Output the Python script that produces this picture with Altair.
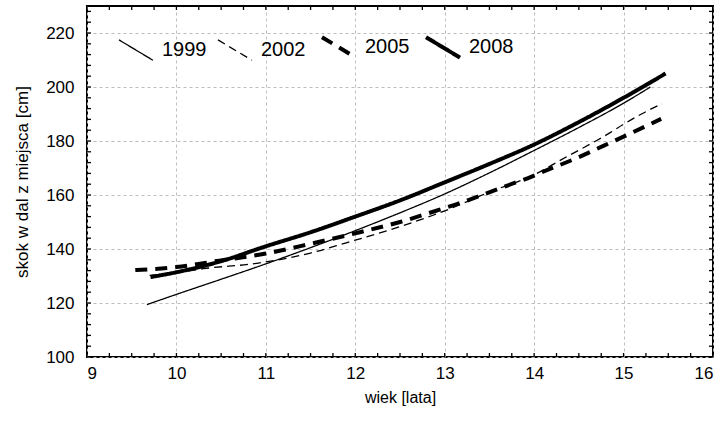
import altair as alt
import pandas as pd
import numpy as np

# ---- data ----
years = ["1999", "2002", "2005", "2008"]
widths = [1.3, 1.3, 4.0, 4.0]
dashes = [[1, 0], [8, 5], [12, 8], [1, 0]]

x_1999 = [9.67, 10.0, 10.5, 11.0, 11.5, 12.0, 12.5, 13.0, 13.5, 14.0, 14.5, 15.0, 15.3]
y_1999 = [119.4, 123.2, 128.8, 134.5, 140.5, 146.8, 153.4, 160.4, 168.2, 176.5, 185.0, 194.0, 200.0]

x_2002 = [9.7, 10.0, 10.3, 10.9, 11.5, 11.9, 12.5, 12.87, 13.09, 13.57, 13.79, 14.0, 14.3, 14.5, 14.7, 14.85, 15.0, 15.2, 15.43]
y_2002 = [130.2, 131.2, 132.7, 134.7, 138.5, 142.3, 148.3, 152.5, 155.3, 162.0, 164.6, 167.5, 173.0, 176.6, 180.2, 183.1, 186.2, 190.0, 193.8]

x_2005 = [9.54, 10.0, 10.48, 11.0, 11.52, 12.05, 12.5, 12.88, 13.16, 13.42, 13.7, 13.98, 14.1, 14.52, 14.78, 15.07, 15.42]
y_2005 = [132.2, 133.3, 135.7, 138.3, 142.1, 146.2, 150.0, 153.9, 156.9, 160.0, 163.5, 166.9, 168.6, 174.3, 178.3, 182.7, 188.2]

x_2008 = [9.71, 10.0, 10.5, 11.0, 11.5, 12.0, 12.5, 13.0, 13.5, 14.0, 14.5, 15.0, 15.47]
y_2008 = [129.6, 131.4, 135.5, 141.0, 146.2, 152.0, 158.0, 164.7, 171.5, 178.7, 187.0, 196.0, 205.0]

x_ticks = [9, 10, 11, 12, 13, 14, 15, 16]
y_ticks = [100, 120, 140, 160, 180, 200, 220]
x_minor = list(np.arange(9.0, 16.01, 0.25))
y_minor = list(range(100, 231, 4))

series = {"1999": (x_1999, y_1999), "2002": (x_2002, y_2002),
          "2005": (x_2005, y_2005), "2008": (x_2008, y_2008)}
wmap = dict(zip(years, widths))
rows = []
for yr, (xs, ys) in series.items():
    for i, (a, b) in enumerate(zip(xs, ys)):
        rows.append({"rok": yr, "wiek": a, "skok": b, "i": i, "w": wmap[yr]})
df = pd.DataFrame(rows)

W, H = 626, 351
FONT = "Liberation Sans"

xscale = alt.Scale(domain=[9, 16], nice=False, zero=False)
yscale = alt.Scale(domain=[100, 230], nice=False, zero=False)

thick = " || ".join(f"datum.value == '{y}'" for y, w in zip(years, widths) if w > 2)
legend = alt.Legend(title=None, orient="none", direction="horizontal",
                    legendX=39, legendY=31,
                    symbolType="M-1,-0.6L1,0.6",
                    symbolSize=1156,
                    symbolStrokeColor="black",
                    symbolFillColor="transparent",
                    symbolStrokeWidth=alt.ExprRef(f"({thick}) ? 4 : 1.3"),
                    labelFontSize=20, labelFont=FONT,
                    labelColor="black", labelOffset=16,
                    columnPadding=8, padding=0)

lines = alt.Chart(df).mark_line(interpolate="monotone", color="black").encode(
    x=alt.X("wiek:Q", scale=xscale,
            axis=alt.Axis(title="wiek [lata]", values=x_ticks, format="d",
                          grid=True, gridColor="#bdbdbd", gridDash=[3, 3], gridWidth=1,
                          ticks=False, domain=False, labelPadding=8,
                          labelFontSize=17, titleFontSize=16, titlePadding=8,
                          labelFont=FONT, titleFont=FONT, titleFontWeight="normal",
                          labelColor="black", titleColor="black")),
    y=alt.Y("skok:Q", scale=yscale,
            axis=alt.Axis(title="skok w dal z miejsca [cm]", values=y_ticks,
                          grid=True, gridColor="#bdbdbd", gridDash=[3, 3], gridWidth=1,
                          ticks=False, domain=False, labelPadding=13,
                          labelFontSize=17, titleFontSize=17, titlePadding=14,
                          labelFont=FONT, titleFont=FONT, titleFontWeight="normal",
                          labelColor="black", titleColor="black")),
    strokeDash=alt.StrokeDash("rok:N",
                              scale=alt.Scale(domain=years, range=dashes),
                              legend=legend),
    strokeWidth=alt.StrokeWidth("w:Q", scale=None, legend=None),
    order="i:Q",
)

xt = pd.DataFrame({"v": x_minor})
yt = pd.DataFrame({"v": y_minor})
TL = 4
tick_b = alt.Chart(xt).mark_rule(color="black", strokeWidth=1.3).encode(
    x=alt.X("v:Q", scale=xscale), y=alt.value(H), y2=alt.value(H - TL))
tick_t = alt.Chart(xt).mark_rule(color="black", strokeWidth=1.3).encode(
    x=alt.X("v:Q", scale=xscale), y=alt.value(0), y2=alt.value(TL))
tick_l = alt.Chart(yt).mark_rule(color="black", strokeWidth=1.3).encode(
    y=alt.Y("v:Q", scale=yscale), x=alt.value(0), x2=alt.value(TL))
tick_r = alt.Chart(yt).mark_rule(color="black", strokeWidth=1.3).encode(
    y=alt.Y("v:Q", scale=yscale), x=alt.value(W), x2=alt.value(W - TL))

chart = alt.layer(lines, tick_b, tick_t, tick_l, tick_r).properties(
    width=W, height=H,
    background="white",
    padding={"left": 87, "top": 6, "right": 12, "bottom": 77},
    autosize=alt.AutoSizeParams(type="none"),
).configure_view(stroke="black", strokeWidth=2)

chart.save("out.html", embed_options={"renderer": "svg", "actions": False})
